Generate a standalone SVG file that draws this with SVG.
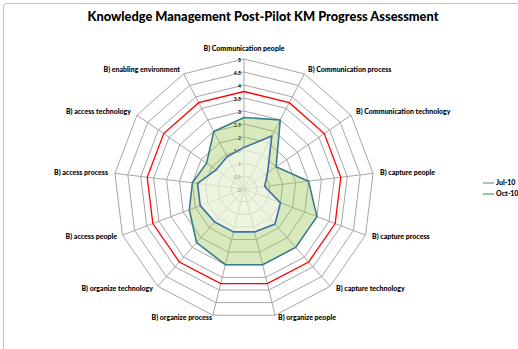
<svg xmlns="http://www.w3.org/2000/svg" xmlns:xlink="http://www.w3.org/1999/xlink" width="518" height="349" viewBox="0 0 518 349">
<style>
.grid{fill:none;stroke:#a6a6a6;stroke-width:1;vector-effect:non-scaling-stroke}
.red{fill:none;stroke:#ff0000;stroke-width:1.3}
.spoke{stroke:#a6a6a6;stroke-width:1}
.lbl{font-family:Lato,"Liberation Sans",sans-serif;font-weight:900;font-size:7px;fill:#000}
.tick{font-family:Lato,"Liberation Sans",sans-serif;font-weight:bold;font-size:5.2px;fill:#000;text-anchor:end}
.title{font-family:Lato,"Liberation Sans",sans-serif;font-weight:900;font-size:12.8px;fill:#000;text-anchor:middle}
</style>
<defs>
<polygon id="ring" class="grid" points="0,-130 60.41,-115.12 106.99,-73.85 129.05,-15.67 121.55,46.10 86.20,97.31 31.11,126.22 -31.11,126.22 -86.20,97.31 -121.55,46.10 -129.05,-15.67 -106.99,-73.85 -60.41,-115.12"/>
</defs>
<rect x="0" y="0" width="518" height="349" fill="#ffffff"/>
<rect x="3.5" y="3.5" width="530" height="360" rx="3" fill="#ffffff" stroke="#bfbfbf" stroke-width="1"/>
<text class="title" x="263" y="21">Knowledge Management Post-Pilot KM Progress Assessment</text>
<g id="grid" transform="translate(244,189)">
<use xlink:href="#ring" transform="scale(0.1)"/>
<use xlink:href="#ring" transform="scale(0.2)"/>
<use xlink:href="#ring" transform="scale(0.3)"/>
<use xlink:href="#ring" transform="scale(0.4)"/>
<use xlink:href="#ring" transform="scale(0.5)"/>
<use xlink:href="#ring" transform="scale(0.6)"/>
<use xlink:href="#ring" transform="scale(0.7)"/>
<use xlink:href="#ring" transform="scale(0.8)"/>
<use xlink:href="#ring" transform="scale(0.9)"/>
<use xlink:href="#ring"/>
<g class="spoke">
<line x1="0" y1="0" x2="0" y2="-130"/>
<line x1="0" y1="0" x2="60.41" y2="-115.12"/>
<line x1="0" y1="0" x2="106.99" y2="-73.85"/>
<line x1="0" y1="0" x2="129.05" y2="-15.67"/>
<line x1="0" y1="0" x2="121.55" y2="46.10"/>
<line x1="0" y1="0" x2="86.20" y2="97.31"/>
<line x1="0" y1="0" x2="31.11" y2="126.22"/>
<line x1="0" y1="0" x2="-31.11" y2="126.22"/>
<line x1="0" y1="0" x2="-86.20" y2="97.31"/>
<line x1="0" y1="0" x2="-121.55" y2="46.10"/>
<line x1="0" y1="0" x2="-129.05" y2="-15.67"/>
<line x1="0" y1="0" x2="-106.99" y2="-73.85"/>
<line x1="0" y1="0" x2="-60.41" y2="-115.12"/>
</g>
<polygon id="target" class="red" points="0,-97.5 45.31,-86.34 80.24,-55.39 96.79,-11.75 91.16,34.58 64.65,72.98 23.33,94.67 -23.33,94.67 -64.65,72.98 -91.16,34.58 -96.79,-11.75 -80.24,-55.39 -45.31,-86.34"/>
</g>
<g id="ticks">
<text class="tick" x="241" y="62">5</text>
<text class="tick" x="241" y="75">4.5</text>
<text class="tick" x="241" y="88">4</text>
<text class="tick" x="241" y="101">3.5</text>
<text class="tick" x="241" y="114">3</text>
<text class="tick" x="241" y="127">2.5</text>
<text class="tick" x="241" y="140">2</text>
<text class="tick" x="241" y="153">1.5</text>
<text class="tick" x="241" y="166">1</text>
<text class="tick" x="241" y="179">0.5</text>
<text class="tick" x="241" y="192">0</text>
</g>
<g id="series" transform="translate(244,189)">
<polygon id="oct" points="0,-71.5 36.25,-69.07 32.10,-22.16 64.53,-7.83 72.93,27.66 51.72,58.38 18.67,75.73 -18.67,75.73 -47.41,53.52 -54.70,20.74 -51.62,-6.27 -37.45,-25.85 -30.21,-57.56" fill="#9bc75a" fill-opacity="0.4" stroke="#3a7c8c" stroke-width="1.6" stroke-linejoin="round"/>
<polygon id="jul" points="0,-41.6 27.79,-52.95 23.54,-16.25 20.65,-2.51 36.47,13.83 31.03,35.03 10.58,42.91 -10.58,42.91 -29.31,33.08 -43.76,16.60 -46.46,-5.64 -27.82,-19.20 -16.92,-32.23" fill="#ffffff" fill-opacity="0.55" stroke="#3f6fa8" stroke-width="1.6" stroke-linejoin="round"/>
</g>
<g id="labels">
<text class="lbl" x="244" y="51" text-anchor="middle">B) Communication people</text>
<text class="lbl" x="308" y="72">B) Communication process</text>
<text class="lbl" x="356" y="114">B) Communication technology</text>
<text class="lbl" x="380" y="175">B) capture people</text>
<text class="lbl" x="372" y="239">B) capture process</text>
<text class="lbl" x="336" y="291">B) capture technology</text>
<text class="lbl" x="278" y="320">B) organize people</text>
<text class="lbl" x="212" y="320" text-anchor="end">B) organize process</text>
<text class="lbl" x="153" y="291" text-anchor="end">B) organize technology</text>
<text class="lbl" x="117" y="239" text-anchor="end">B) access people</text>
<text class="lbl" x="108" y="175" text-anchor="end">B) access process</text>
<text class="lbl" x="131" y="114" text-anchor="end">B) access technology</text>
<text class="lbl" x="180" y="72" text-anchor="end">B) enabling environment</text>
</g>
<g id="legend">
<line x1="483" y1="183" x2="494" y2="183" stroke="#9bb8d9" stroke-width="1.8"/>
<text class="lbl" x="496" y="185">Jul-10</text>
<line x1="483" y1="194" x2="494" y2="194" stroke="#7cc894" stroke-width="1.8"/>
<text class="lbl" x="496" y="196">Oct-10</text>
</g>
</svg>
